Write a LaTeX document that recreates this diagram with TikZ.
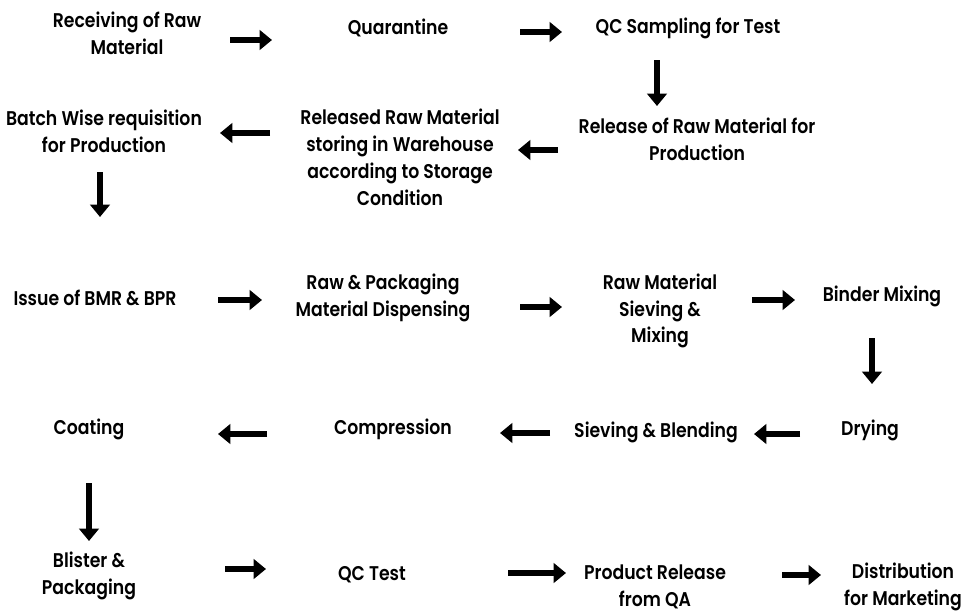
\documentclass[tikz,border=0pt]{standalone}
\usepackage{fontspec}
\setmainfont{Poppins}[FakeStretch=0.87, BoldFont={Poppins SemiBold}, BoldFeatures={FakeStretch=0.87}]
\usetikzlibrary{arrows.meta}
\tikzset{
    step box/.style={align=center, font=\bfseries\fontsize{11.3}{15.3}\selectfont, inner sep=0pt},
    flow/.style={line width=3.6pt, -{Triangle[length=7pt, width=11pt]}}
}
\begin{document}
\begin{tikzpicture}[x=0.02cm, y=-0.02cm]
    \useasboundingbox (0,0) rectangle (963,613);

    % Receiving to warehouse
    \node[step box] (recv) at (127,33) {Receiving of Raw\\Material};
    \node[step box] (quar) at (398,28) {Quarantine};
    \node[step box] (samp) at (688,28) {QC Sampling for Test};
    \node[step box] (rel) at (697,139) {Release of Raw Material for\\Production};
    \node[step box] (store) at (400,157) {Released Raw Material\\storing in Warehouse\\according to Storage\\Condition};
    \node[step box] (batch) at (104,131) {Batch Wise requisition\\for Production};

    % Manufacturing
    \node[step box] (bmr) at (95,298) {Issue of BMR \& BPR};
    \node[step box] (disp) at (383,298) {Raw \& Packaging\\Material Dispensing};
    \node[step box] (sieve) at (660,311) {Raw Material\\Sieving \&\\Mixing};
    \node[step box] (binder) at (882,296) {Binder Mixing};
    \node[step box] (dry) at (870,430) {Drying};
    \node[step box] (blend) at (656,432) {Sieving \& Blending};
    \node[step box] (comp) at (393,429) {Compression};
    \node[step box] (coat) at (89,429) {Coating};

    % Packing and release
    \node[step box] (blis) at (89,576) {Blister \&\\Packaging};
    \node[step box] (qct) at (372,575) {QC Test};
    \node[step box] (prod) at (655,587) {Product Release\\from QA};
    \node[step box] (dist) at (903,587) {Distribution\\for Marketing};

    % arrow ends
    \coordinate (a1s) at (230,40);  \coordinate (a1e) at (272,40);
    \coordinate (a2s) at (520,32);  \coordinate (a2e) at (562,32);
    \coordinate (a3s) at (657,60);  \coordinate (a3e) at (657,106);
    \coordinate (a4s) at (558,150); \coordinate (a4e) at (518,150);
    \coordinate (a5s) at (270,133); \coordinate (a5e) at (220,133);
    \coordinate (a6s) at (100,172); \coordinate (a6e) at (100,217);
    \coordinate (a7s) at (218,300); \coordinate (a7e) at (262,300);
    \coordinate (a8s) at (520,307); \coordinate (a8e) at (562,307);
    \coordinate (a9s) at (752,300); \coordinate (a9e) at (795,300);
    \coordinate (b1s) at (872,338); \coordinate (b1e) at (872,384);
    \coordinate (b2s) at (800,434); \coordinate (b2e) at (754,434);
    \coordinate (b3s) at (550,433); \coordinate (b3e) at (500,433);
    \coordinate (b4s) at (267,434); \coordinate (b4e) at (218,434);
    \coordinate (b5s) at (89,483);  \coordinate (b5e) at (89,541);
    \coordinate (b6s) at (225,569); \coordinate (b6e) at (266,569);
    \coordinate (b7s) at (508,573); \coordinate (b7e) at (566,573);
    \coordinate (b8s) at (782,575); \coordinate (b8e) at (821,575);

    \foreach \s/\e in {a1s/a1e, a2s/a2e, a3s/a3e, a4s/a4e, a5s/a5e, a6s/a6e,
        a7s/a7e, a8s/a8e, a9s/a9e, b1s/b1e, b2s/b2e, b3s/b3e, b4s/b4e,
        b5s/b5e, b6s/b6e, b7s/b7e, b8s/b8e}
        \draw[flow] (\s) -- (\e);
\end{tikzpicture}
\end{document}
